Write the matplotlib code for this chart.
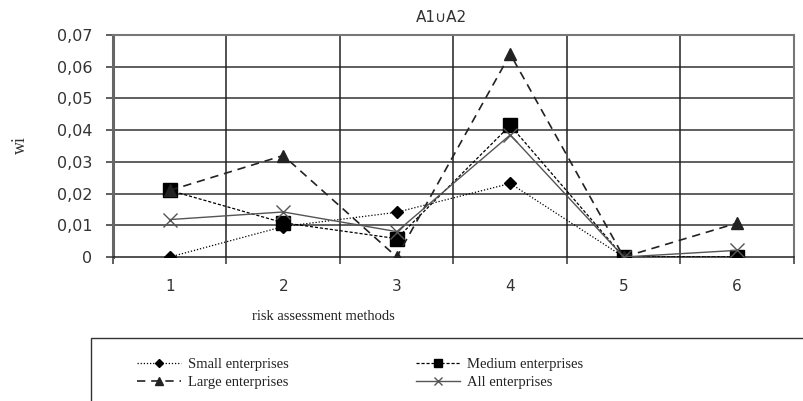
import numpy as np
import matplotlib.pyplot as plt
from matplotlib.patches import Rectangle

methods = [1, 2, 3, 4, 5, 6]
small = [0.0, 0.0096, 0.0141, 0.0232, 0.0, 0.0]
medium = [0.021, 0.0108, 0.0058, 0.0415, 0.0, 0.0]
large = [0.021, 0.032, 0.0, 0.064, 0.0, 0.0107]
all_ent = [0.0118, 0.0142, 0.008, 0.0385, 0.0, 0.0021]
yticks = [0, 0.01, 0.02, 0.03, 0.04, 0.05, 0.06, 0.07]
ytick_labels = ['0', '0,01', '0,02', '0,03', '0,04', '0,05', '0,06', '0,07']

serif = ['Liberation Serif', 'DejaVu Serif']

fig = plt.figure(figsize=(8.04, 4.01), dpi=100)
W, H = 804, 401
ax = fig.add_axes([113 / W, 1 - 257 / H, (794 - 113) / W, (257 - 35) / H])

# grid
for y in yticks[1:]:
    ax.axhline(y, color='#333333', lw=1.1, zorder=1)
for xb in np.arange(1.5, 6.5, 1):
    ax.axvline(xb, color='#222222', lw=1.1, zorder=1)

h_small, = ax.plot(methods, small, color='black', ls=(0, (1, 1.5)), lw=0.9,
                   marker='D', ms=6.5, label='Small enterprises', zorder=3)
h_med, = ax.plot(methods, medium, color='black', ls=(0, (2.5, 1.5)), lw=0.9,
                 marker='s', ms=9.5, label='Medium enterprises', zorder=3)
h_large, = ax.plot(methods, large, color='#222222', ls=(0, (5, 3.5)), lw=1.2,
                   marker='^', ms=8.5, label='Large enterprises', zorder=3)
h_all, = ax.plot(methods, all_ent, color='#555555', ls='-', lw=1.0,
                 marker='x', ms=9.5, mew=1.0, label='All enterprises', zorder=4)

ax.set_xlim(0.5, 6.5)
ax.set_ylim(0, 0.07)
ax.set_yticks(yticks)
ax.set_yticklabels(ytick_labels)
ax.set_xticks(methods)
ax.set_xticks(np.arange(0.5, 7, 1), minor=True)
ax.tick_params(axis='x', which='major', length=0, pad=16, labelsize=11, colors='#333333')
ax.tick_params(axis='x', which='minor', length=5, width=1.1, color='#333333')
ax.tick_params(axis='y', length=5, width=1.1, color='#333333', labelsize=11.5,
               labelcolor='#333333', pad=10)
for s in ['top', 'right']:
    ax.spines[s].set_color('#777777')
    ax.spines[s].set_linewidth(1.5)
ax.spines['left'].set_color('#666666')
ax.spines['left'].set_linewidth(2.2)
ax.spines['bottom'].set_color('#222222')
ax.spines['bottom'].set_linewidth(1.1)

fig.text(441 / W, 1 - 17 / H, 'A1\u222aA2', ha='center', va='center', fontsize=11,
         color='#333333')
fig.text(20 / W, 1 - 145 / H, 'wi', rotation=90, ha='center', va='center',
         fontsize=13, family=serif, color='#333333')
fig.text(323 / W, 1 - 316 / H, 'risk assessment methods', ha='center', va='center',
         fontsize=10.5, family=serif, color='#222222')

# legend box running off the canvas edge
fig.patches.append(Rectangle((91 / W, -0.02), 1, 1 - 338 / H + 0.02,
                             transform=fig.transFigure, fill=False,
                             edgecolor='#333333', lw=1.0))
leg = fig.legend(handles=[h_small, h_large, h_med, h_all], ncol=2,
                 loc='upper left', bbox_to_anchor=(124 / W, 1 - 345 / H),
                 frameon=False, prop={'family': serif, 'size': 10.5},
                 handlelength=3.0, columnspacing=8.7, labelspacing=0.3,
                 handletextpad=0.5, markerscale=0.6)
for t in leg.get_texts():
    t.set_color('#222222')

fig.savefig('out.png', dpi=100)
